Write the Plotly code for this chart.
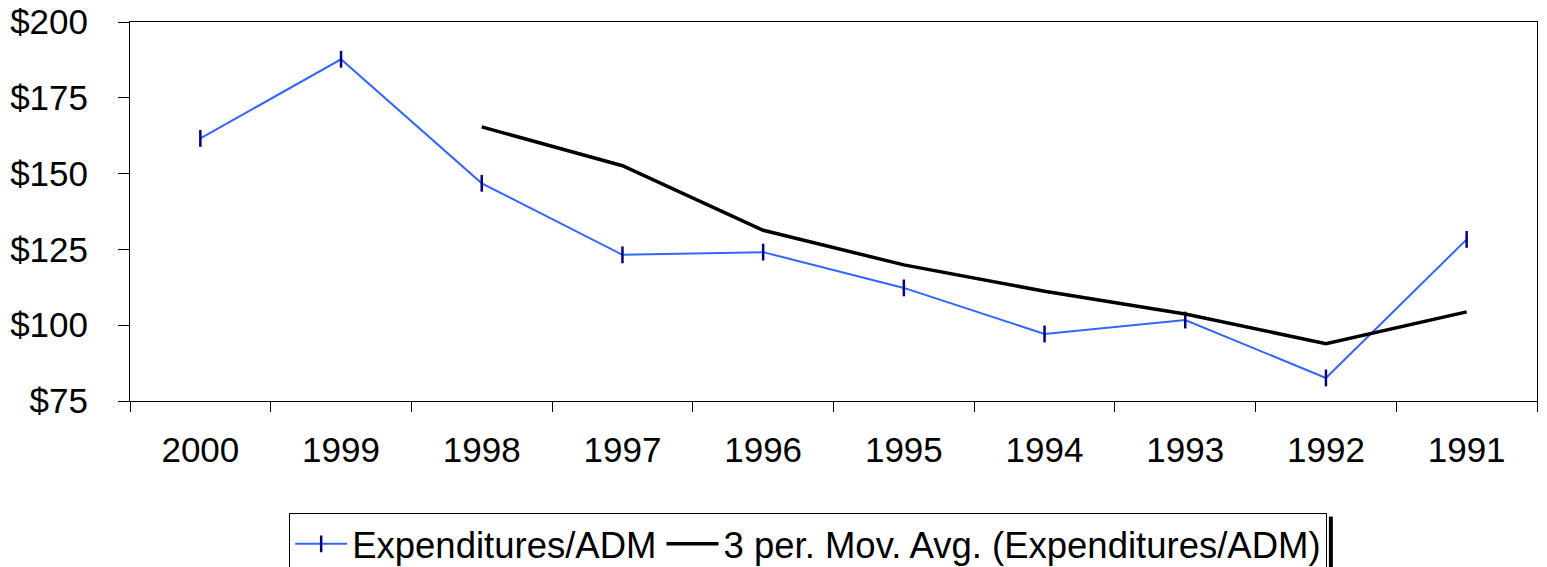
import plotly.graph_objects as go

years = ["2000", "1999", "1998", "1997", "1996", "1995", "1994", "1993", "1992", "1991"]
expenditures = [161.6, 187.7, 146.8, 123.2, 124.1, 112.3, 97.1, 101.7, 82.6, 128.3]
ma_years = ["1998", "1997", "1996", "1995", "1994", "1993", "1992", "1991"]
moving_avg = [165.4, 152.6, 131.3, 119.9, 111.2, 103.7, 93.9, 104.4]
y_ticks = [75, 100, 125, 150, 175, 200]
y_labels = ["$75", "$100", "$125", "$150", "$175", "$200"]

FONT = "Liberation Sans, Arial, sans-serif"

fig = go.Figure()
fig.add_trace(go.Scatter(
    x=years, y=expenditures, mode="lines+markers",
    name="Expenditures/ADM",
    line=dict(color="#3366FF", width=2),
    marker=dict(symbol="line-ns", size=12, line=dict(color="#000080", width=2.5), color="#000080"),
))
fig.add_trace(go.Scatter(
    x=ma_years, y=moving_avg, mode="lines",
    name="3 per. Mov. Avg. (Expenditures/ADM)",
    line=dict(color="black", width=3.5),
))

# legend drop shadow (right edge)
fig.add_shape(type="line", xref="paper", yref="paper",
              x0=0.8535, x1=0.8535, y0=-0.305, y1=-0.5,
              line=dict(color="black", width=4))

fig.update_layout(
    width=1547, height=567,
    margin=dict(l=122, r=18, t=14, b=174, autoexpand=False),
    paper_bgcolor="white", plot_bgcolor="white",
    font=dict(family=FONT, size=35, color="black"),
    showlegend=True,
    legend=dict(
        orientation="h", x=0.482, xanchor="center", y=-0.2945, yanchor="top",
        bordercolor="black", borderwidth=1, bgcolor="white",
        font=dict(family=FONT, size=36.5, color="black"),
        itemwidth=52, tracegroupgap=0,
    ),
    xaxis=dict(
        type="category", categoryorder="array", categoryarray=years,
        showline=True, linecolor="black", linewidth=1, mirror=True,
        ticks="outside", tickson="boundaries", ticklen=10, tickcolor="black",
        showgrid=False, zeroline=False, ticklabelstandoff=18,
        range=[-0.5, 9.5], automargin=False, ticklabeloverflow="allow",
    ),
    yaxis=dict(
        range=[75, 200], tickvals=y_ticks, ticktext=y_labels,
        showline=True, linecolor="black", linewidth=1, mirror=True,
        ticks="outside", ticklen=11, tickcolor="black",
        showgrid=False, zeroline=False, ticklabelstandoff=23,
        automargin=False, ticklabeloverflow="allow",
    ),
)

fig.write_html("out.html")
